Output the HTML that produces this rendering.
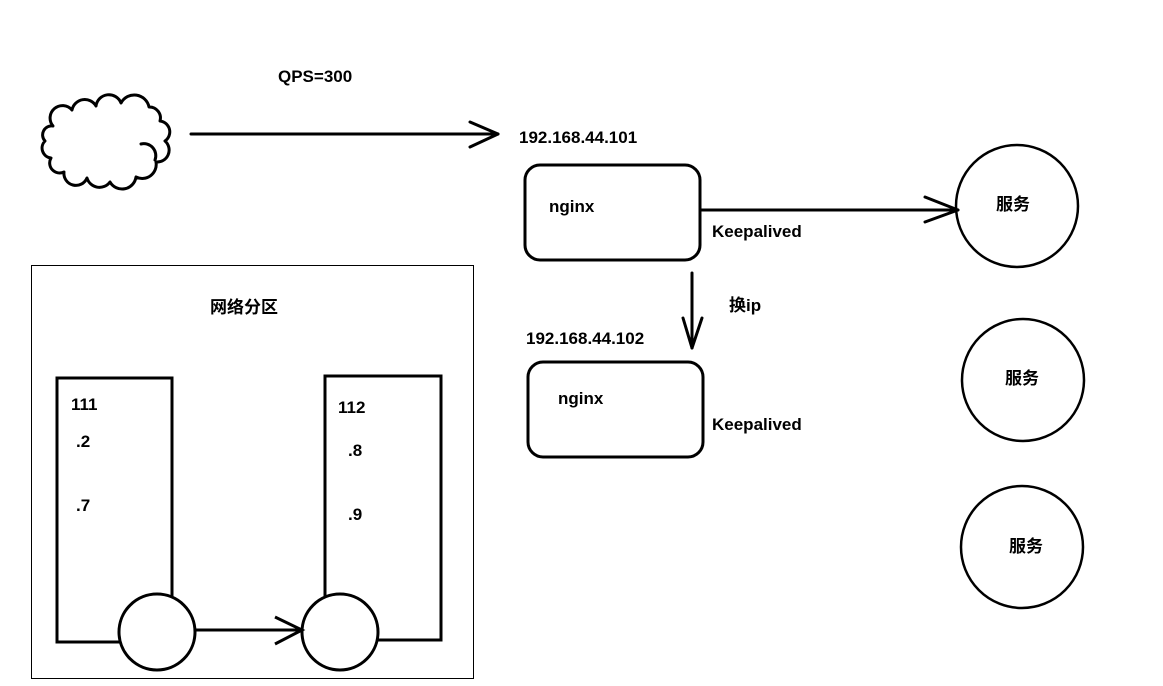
<!DOCTYPE html>
<html><head><meta charset="utf-8"><style>
html,body{margin:0;padding:0;background:#fff;}
svg{display:block}
text{font-family:"Liberation Sans","Noto Sans CJK SC",sans-serif;font-weight:bold;font-size:17px;fill:#000}
</style></head><body>
<svg width="1163" height="686" viewBox="0 0 1163 686" xmlns="http://www.w3.org/2000/svg">
<g fill="none" stroke="#000" stroke-width="3" stroke-linecap="round" stroke-linejoin="round">
<!-- cloud -->
<path d="M53,126 A12,12 0 0 1 72,110 A13,13 0 0 1 96,106 A13,13 0 0 1 121,103 A15,15 0 0 1 149,107 A11,11 0 0 1 160,121 A11,11 0 0 1 165,141 A12,12 0 0 1 156,162 A14,14 0 0 1 136,177 A14,14 0 0 1 110,182 A13,13 0 0 1 87,178 A12,12 0 0 1 64,172 A10,10 0 0 1 51,158 A10,10 0 0 1 45,141 A9,9 0 0 1 53,126 Z"/>
<path d="M141,144 A12,12 0 0 1 155,160"/>
<!-- top arrow -->
<line x1="191" y1="134" x2="498" y2="134"/>
<polyline points="470,122 498,134 470,147"/>
<!-- nginx boxes -->
<rect x="525" y="165" width="175" height="95" rx="15"/>
<rect x="528" y="362" width="175" height="95" rx="15"/>
<line x1="700" y1="210" x2="958" y2="210"/>
<polyline points="925,197 958,210 925,222"/>
<line x1="692" y1="273" x2="692" y2="348"/>
<polyline points="683,318 692,348 702,318"/>
<!-- services -->
<circle cx="1017" cy="206" r="61" stroke-width="2.5"/>
<circle cx="1023" cy="380" r="61" stroke-width="2.5"/>
<circle cx="1022" cy="547" r="61" stroke-width="2.5"/>
</g>
<rect x="31.5" y="265.5" width="442" height="413" fill="none" stroke="#000" stroke-width="1"/>
<g fill="none" stroke="#000" stroke-width="3">
<rect x="57" y="378" width="115" height="264"/>
<rect x="325" y="376" width="116" height="264"/>
<circle cx="157" cy="632" r="38" fill="#fff"/>
<circle cx="340" cy="632" r="38" fill="#fff"/>
<line x1="196" y1="630" x2="302" y2="630"/>
<polyline points="275,617 302,630 275,644"/>
</g>
<text x="278" y="82">QPS=300</text>
<text x="519" y="143">192.168.44.101</text>
<text x="549" y="212">nginx</text>
<text x="712" y="237">Keepalived</text>
<text x="729" y="311">换ip</text>
<text x="526" y="344">192.168.44.102</text>
<text x="558" y="404">nginx</text>
<text x="712" y="430">Keepalived</text>
<text x="996" y="210">服务</text>
<text x="1005" y="384">服务</text>
<text x="1009" y="552">服务</text>
<text x="210" y="313">网络分区</text>
<text x="71" y="410">111</text>
<text x="76" y="447">.2</text>
<text x="76" y="511">.7</text>
<text x="338" y="413">112</text>
<text x="348" y="456">.8</text>
<text x="348" y="520">.9</text>
</svg>
</body></html>
